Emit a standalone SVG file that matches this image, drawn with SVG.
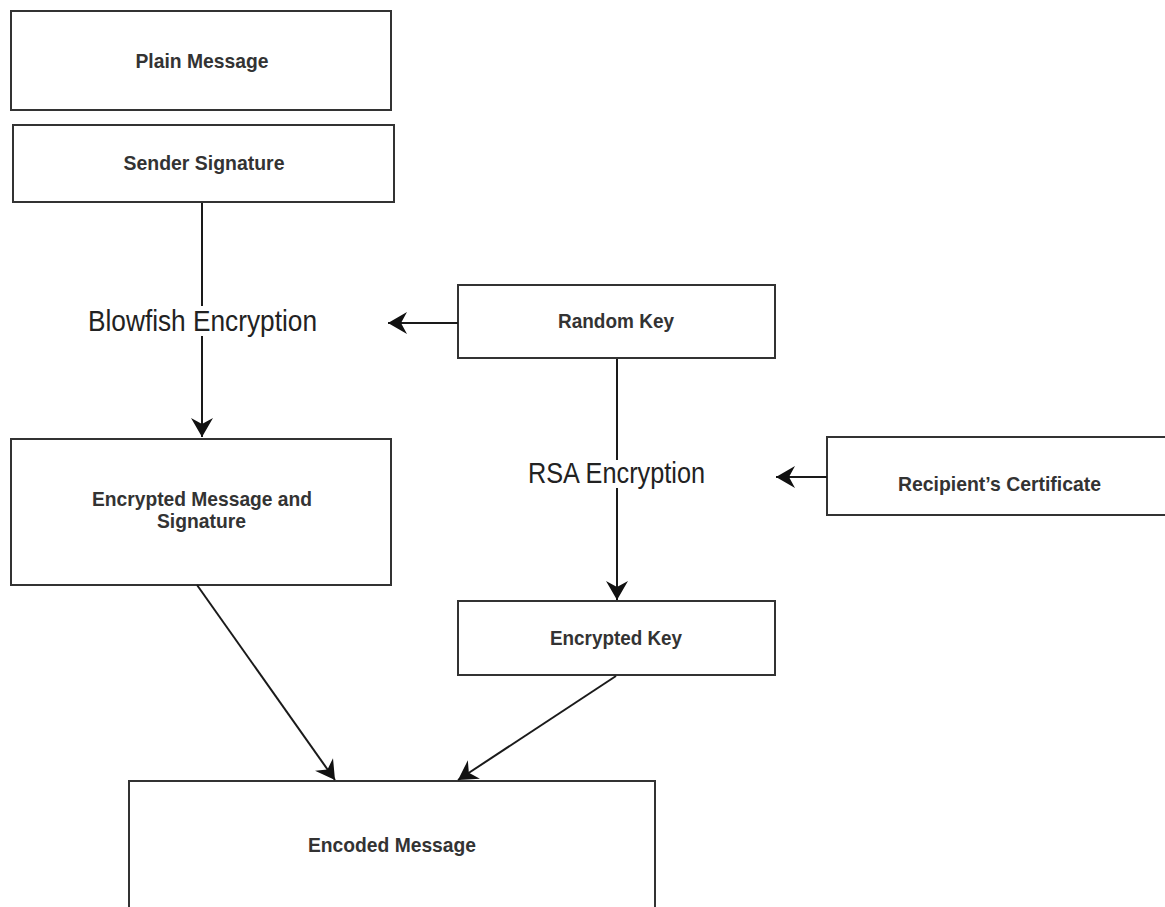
<svg xmlns="http://www.w3.org/2000/svg" width="1165" height="907" viewBox="0 0 1165 907">
  <defs>
    <style>
      .box { fill: #ffffff; stroke: #333333; stroke-width: 2; }
      .lbl { font-family: "Liberation Sans Narrow", "Liberation Sans", Arial, sans-serif; font-weight: bold; font-size: 21px; fill: #333333; text-anchor: middle; }
      .big { font-family: "Liberation Sans Narrow", "Liberation Sans", Arial, sans-serif; font-size: 29px; fill: #222222; text-anchor: middle; }
      .conn { stroke: #1a1a1a; stroke-width: 2; fill: none; }
    </style>
    <marker id="arr" markerUnits="userSpaceOnUse" markerWidth="22" markerHeight="26" viewBox="-20 -13 22 26" refX="0" refY="0" orient="auto">
      <path d="M0,0 L-19,-11 L-13,0 L-19,11 Z" fill="#111111"/>
    </marker>
  </defs>
  <rect width="1165" height="907" fill="#ffffff"/>

  <g id="plain-message">
    <rect class="box" x="11" y="11" width="380" height="99"/>
    <text class="lbl" x="202" y="68" textLength="133" lengthAdjust="spacingAndGlyphs">Plain Message</text>
  </g>
  <g id="sender-signature">
    <rect class="box" x="13" y="125" width="381" height="77"/>
    <text class="lbl" x="204" y="170" textLength="161" lengthAdjust="spacingAndGlyphs">Sender Signature</text>
  </g>
  <g id="blowfish-encryption">
    <text class="big" x="202.5" y="331" textLength="229" lengthAdjust="spacingAndGlyphs">Blowfish Encryption</text>
  </g>
  <g id="random-key">
    <rect class="box" x="458" y="285" width="317" height="73"/>
    <text class="lbl" x="616" y="328" textLength="116" lengthAdjust="spacingAndGlyphs">Random Key</text>
  </g>
  <g id="encrypted-message">
    <rect class="box" x="11" y="439" width="380" height="146"/>
    <text class="lbl" x="202" y="506" textLength="220" lengthAdjust="spacingAndGlyphs">Encrypted Message and</text>
    <text class="lbl" x="201.5" y="528" textLength="89" lengthAdjust="spacingAndGlyphs">Signature</text>
  </g>
  <g id="rsa-encryption">
    <text class="big" x="616.5" y="483" textLength="177" lengthAdjust="spacingAndGlyphs">RSA Encryption</text>
  </g>
  <g id="recipients-certificate">
    <rect class="box" x="827" y="437" width="360" height="78"/>
    <text class="lbl" x="999.5" y="491" textLength="203" lengthAdjust="spacingAndGlyphs">Recipient’s Certificate</text>
  </g>
  <g id="encrypted-key">
    <rect class="box" x="458" y="601" width="317" height="74"/>
    <text class="lbl" x="616" y="645" textLength="132" lengthAdjust="spacingAndGlyphs">Encrypted Key</text>
  </g>
  <g id="encoded-message">
    <rect class="box" x="129" y="781" width="526" height="150"/>
    <text class="lbl" x="392" y="852" textLength="168" lengthAdjust="spacingAndGlyphs">Encoded Message</text>
  </g>

  <g id="connectors">
    <line class="conn" x1="202" y1="203" x2="202" y2="306"/>
    <line class="conn" x1="202" y1="336" x2="202" y2="437" marker-end="url(#arr)"/>
    <line class="conn" x1="458" y1="323" x2="388" y2="323" marker-end="url(#arr)"/>
    <line class="conn" x1="617" y1="359" x2="617" y2="460"/>
    <line class="conn" x1="617" y1="488" x2="617" y2="600" marker-end="url(#arr)"/>
    <line class="conn" x1="827" y1="477" x2="776" y2="477" marker-end="url(#arr)"/>
    <line class="conn" x1="197" y1="585" x2="335" y2="780" marker-end="url(#arr)"/>
    <line class="conn" x1="616" y1="676" x2="458" y2="780" marker-end="url(#arr)"/>
  </g>
</svg>
